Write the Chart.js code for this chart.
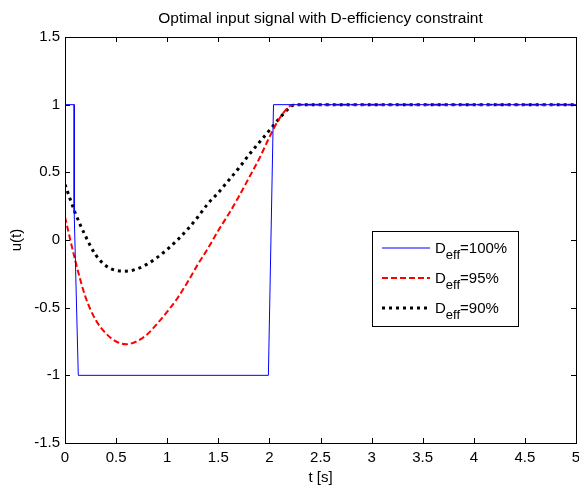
<!DOCTYPE html>
<html>
<head>
<meta charset="utf-8">
<script src="https://cdn.jsdelivr.net/npm/chart.js@4"></script>
<style>
  html, body { margin: 0; padding: 0; background: #fff; }
  #wrap { width: 579px; height: 487px; }
</style>
</head>
<body>
<div id="wrap"><canvas id="plot"></canvas></div>
<script>
// values
const tBlue = [0, 0.09, 0.09, 0.13, 1.99, 2.04, 5];
const uBlue = [1, 1, 0.2, -1, -1, 1, 1];

const tCurve = [0, 0.1, 0.2, 0.3, 0.4, 0.5, 0.6, 0.7, 0.8, 0.9, 1.0, 1.1, 1.2, 1.3, 1.4,
                1.5, 1.6, 1.7, 1.8, 1.9, 2.0, 2.1, 2.2, 2.25, 3, 4, 5];
const uRed = [0.17, -0.15, -0.42, -0.59, -0.69, -0.75, -0.77, -0.75, -0.70, -0.62, -0.53,
              -0.43, -0.31, -0.18, -0.06, 0.07, 0.19, 0.32, 0.46, 0.60, 0.76, 0.90, 0.99, 1, 1, 1, 1];
const uBlack = [0.41, 0.2, 0.03, -0.11, -0.19, -0.225, -0.23, -0.215, -0.18, -0.13, -0.07,
                0.0, 0.08, 0.17, 0.27, 0.35, 0.44, 0.53, 0.63, 0.72, 0.81, 0.90, 0.98, 1, 1, 1, 1];

const legendLabels = ['100%', '95%', '90%'];

function toPoints(xs, ys) { return xs.map((x, i) => ({ x: x, y: ys[i] })); }
function fmt(v) { return String(+(+v).toFixed(2)); }

const FONT = '"Liberation Sans", Arial, sans-serif';

// MATLAB style box with inward ticks + legend
const boxPlugin = {
  id: 'boxTicks',
  afterDraw(chart) {
    const ctx = chart.ctx;
    const a = chart.chartArea;
    const xs = chart.scales.x, ys = chart.scales.y;
    const len = 5;
    ctx.save();
    ctx.strokeStyle = '#000';
    ctx.lineWidth = 1;
    ctx.beginPath();
    xs.ticks.forEach(t => {
      const px = Math.round(xs.getPixelForValue(t.value)) + 0.5;
      ctx.moveTo(px, a.bottom); ctx.lineTo(px, a.bottom - len);
      ctx.moveTo(px, a.top); ctx.lineTo(px, a.top + len);
    });
    ys.ticks.forEach(t => {
      const py = Math.round(ys.getPixelForValue(t.value)) + 0.5;
      ctx.moveTo(a.left, py); ctx.lineTo(a.left + len, py);
      ctx.moveTo(a.right, py); ctx.lineTo(a.right - len, py);
    });
    ctx.stroke();
    ctx.strokeRect(Math.round(a.left) + 0.5, Math.round(a.top) + 0.5,
                   Math.round(a.right - a.left), Math.round(a.bottom - a.top));

    // legend
    const lx = a.left + 307, ly = a.top + 194, lw = 146, lh = 95;
    ctx.fillStyle = '#fff';
    ctx.fillRect(lx, ly, lw, lh);
    ctx.strokeRect(lx + 0.5, ly + 0.5, lw, lh);
    chart.data.datasets.forEach((ds, i) => {
      const yy = ly + 17 + i * 30;
      ctx.save();
      ctx.strokeStyle = ds.borderColor;
      ctx.lineWidth = ds.borderWidth;
      ctx.setLineDash(ds.borderDash || []);
      ctx.beginPath();
      ctx.moveTo(lx + 10, yy);
      ctx.lineTo(lx + 58, yy);
      ctx.stroke();
      ctx.restore();
      ctx.fillStyle = '#000';
      ctx.textBaseline = 'alphabetic';
      ctx.textAlign = 'left';
      let tx = lx + 63;
      ctx.font = '15px ' + FONT;
      ctx.fillText('D', tx, yy + 5);
      tx += ctx.measureText('D').width;
      ctx.font = '13px ' + FONT;
      ctx.fillText('eff', tx, yy + 11);
      tx += ctx.measureText('eff').width;
      ctx.font = '15px ' + FONT;
      ctx.fillText('=' + legendLabels[i], tx, yy + 5);
    });
    ctx.restore();
  }
};

new Chart(document.getElementById('plot'), {
  type: 'line',
  data: {
    datasets: [
      {
        label: 'D_eff=100%',
        data: toPoints(tBlue, uBlue),
        borderColor: '#0000ff',
        borderWidth: 1,
        pointRadius: 0,
        tension: 0
      },
      {
        label: 'D_eff=95%',
        data: toPoints(tCurve, uRed),
        borderColor: '#ff0000',
        borderWidth: 2,
        borderDash: [6, 3],
        pointRadius: 0,
        cubicInterpolationMode: 'monotone'
      },
      {
        label: 'D_eff=90%',
        data: toPoints(tCurve, uBlack),
        borderColor: '#000000',
        borderWidth: 3,
        borderDash: [3, 4],
        pointRadius: 0,
        cubicInterpolationMode: 'monotone'
      }
    ]
  },
  options: {
    responsive: true,
    maintainAspectRatio: false,
    animation: false,
    layout: { autoPadding: false, padding: { left: 0, right: 3, top: 0, bottom: 0 } },
    plugins: {
      legend: { display: false },
      tooltip: { enabled: false },
      title: {
        display: true,
        fullSize: false,
        text: 'Optimal input signal with D-efficiency constraint',
        color: '#000',
        font: { family: FONT, size: 15.5, weight: 'normal' },
        padding: { top: 9, bottom: 9.4 }
      }
    },
    scales: {
      x: {
        type: 'linear',
        min: 0, max: 5,
        grid: { display: false, drawTicks: false },
        border: { display: false },
        ticks: { stepSize: 0.5, color: '#000', padding: 6, maxRotation: 0,
                 font: { family: FONT, size: 15 }, callback: fmt },
        title: { display: true, text: 't [s]', color: '#000',
                 font: { family: FONT, size: 15 }, padding: { top: 0, bottom: 0 } },
        afterFit(scale) { scale.height = 44; scale.paddingLeft = 0; scale.paddingRight = 0; }
      },
      y: {
        type: 'linear',
        min: -1.5, max: 1.5,
        grid: { display: false, drawTicks: false },
        border: { display: false },
        ticks: { stepSize: 0.5, color: '#000', padding: 5,
                 font: { family: FONT, size: 15 }, callback: fmt },
        title: { display: true, text: 'u(t)', color: '#000',
                 font: { family: FONT, size: 15 }, padding: { top: 8, bottom: 0 } },
        afterFit(scale) { scale.width = 65; scale.paddingTop = 0; scale.paddingBottom = 0; }
      }
    }
  },
  plugins: [boxPlugin]
});
</script>
</body>
</html>
